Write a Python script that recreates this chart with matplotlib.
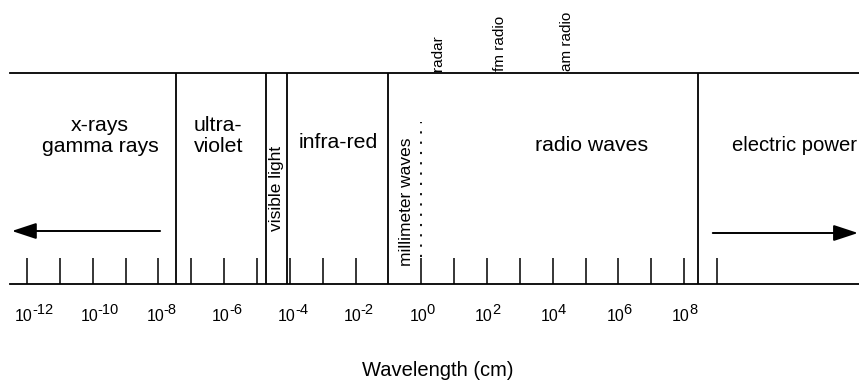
import matplotlib
matplotlib.use("Agg")
import matplotlib.pyplot as plt

plt.rcParams['font.family'] = ['Liberation Sans', 'DejaVu Sans']

# wavelength scale (cm): decade ticks and labels
tick_cm = [1e-12, 1e-11, 1e-10, 1e-9, 1e-8, 1e-7, 1e-6, 1e-5, 1e-4, 1e-3, 1e-2,
           1e0, 1e1, 1e2, 1e3, 1e4, 1e5, 1e6, 1e7, 1e8, 1e9]
label_exp = [-12, -10, -8, -6, -4, -2, 0, 2, 4, 6, 8]

# band boundaries (cm)
boundaries = [3.5e-8, 1.86e-5, 7.9e-5, 0.0955, 2.6e8]
mm_radio_edge = 1.0  # dotted line between millimeter waves and radio

# band names and where their label sits (cm)
bands = ["x-rays\ngamma rays", "ultra-\nviolet", "visible light", "infra-red",
         "millimeter waves", "radio waves", "electric power"]
band_pos = [1.66e-10, 6.6e-7, 3.8e-5, 2.95e-3, 0.36, 1.55e5, 2.9e9]

# applications marked above the top line (cm)
apps = ["radar", "fm radio", "am radio"]
app_pos = [3.2, 250, 2.7e4]

W, H = 859, 382
fig = plt.figure(figsize=(W / 100, H / 100), dpi=100)
top_px, base_px, left_px = 73, 284, 10
ax = fig.add_axes([left_px / W, (H - base_px) / H, (W - left_px) / W, (base_px - top_px) / H])
ax.set_xscale('log')
ax.set_xlim(10 ** -12.518, 10 ** 13.321)
ax.set_ylim(base_px, top_px)   # y in figure pixels, top down
ax.axis('off')

lw = 1.3
ax.axhline(top_px, color='black', lw=lw, clip_on=False)
ax.axhline(base_px, color='black', lw=lw, clip_on=False)

# band boundaries
ax.vlines(boundaries, base_px, top_px, color='black', lw=lw)
ax.vlines([mm_radio_edge], 257, 122, color='black', lw=1.3, linestyles=(0, (1.2, 4.5)))

# decade ticks, labelled "10" with a raised exponent
ax.vlines(tick_cm, base_px, base_px - 26, color='black', lw=1.1)
for e in label_exp:
    ax.annotate('10', xy=(10.0 ** e, base_px), xytext=(-12, -37), textcoords='offset pixels',
                ha='left', va='baseline', fontsize=11.5)
    ax.annotate(str(e), xy=(10.0 ** e, base_px), xytext=(5, -30), textcoords='offset pixels',
                ha='left', va='baseline', fontsize=10.5)

# band labels
fs = 15.3
ax.text(band_pos[0], 136, bands[0], ha='center', va='center', fontsize=fs, linespacing=1.15)
ax.text(band_pos[1], 136, bands[1], ha='center', va='center', fontsize=fs, linespacing=1.15,
        multialignment='left')
ax.text(band_pos[2], 188, bands[2], ha='center', va='center', rotation=90, fontsize=12.5)
ax.text(band_pos[3], 148, bands[3], ha='center', va='baseline', fontsize=fs)
ax.text(band_pos[4], 202, bands[4], ha='center', va='center', rotation=90, fontsize=12.5)
ax.text(band_pos[5], 151, bands[5], ha='center', va='baseline', fontsize=fs)
ax.text(band_pos[6], 151, bands[6], ha='left', va='baseline', fontsize=14.6)

for name, x in zip(apps, app_pos):
    ax.text(x, top_px - 2, name, rotation=90, ha='center', va='bottom', fontsize=11)

# arrows off both ends of the scale
arrow = dict(arrowstyle='-|>,head_length=1.0,head_width=0.33', color='black', lw=1.4,
             mutation_scale=15, shrinkA=0, shrinkB=0)
ax.annotate('', xy=(10 ** -12.46, 231), xytext=(10 ** -7.95, 231), arrowprops=arrow,
            annotation_clip=False)
ax.annotate('', xy=(10 ** 13.29, 233), xytext=(10 ** 8.87, 233), arrowprops=arrow,
            annotation_clip=False)

fig.text(438 / W, (H - 376) / H, "Wavelength (cm)", ha='center', va='baseline', fontsize=14.5)

plt.savefig("out.png", dpi=100)
